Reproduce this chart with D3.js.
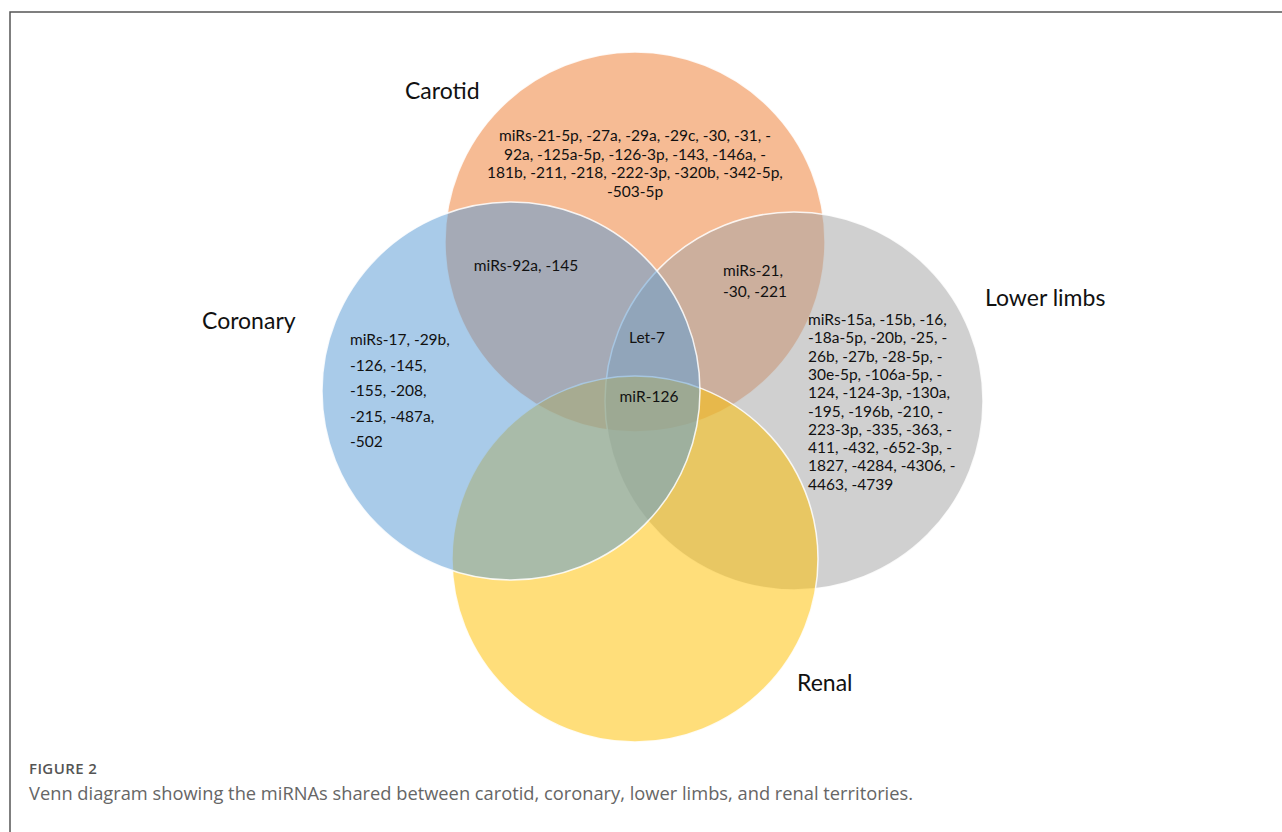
<!DOCTYPE html>
<html>
<head>
<meta charset="utf-8">
<script src="https://cdn.jsdelivr.net/npm/d3@7"></script>
<style>
  body { margin: 0; background: #fff; }
  svg { display: block; }
</style>
</head>
<body>
<div id="venn"></div>
<script>
// sets
var setNames = ["Carotid", "Coronary", "Lower limbs", "Renal"];
var setColors = ["#ED7D31", "#5B9BD5", "#A5A5A5", "#FFC000"];

// miRNAs in each region, one entry per printed line
var carotidOnly = [
    "miRs-21-5p, -27a, -29a, -29c, -30, -31, -",
    "92a, -125a-5p, -126-3p, -143, -146a, -",
    "181b, -211, -218, -222-3p, -320b, -342-5p,",
    "-503-5p"
];
var coronaryOnly = ["miRs-17, -29b,", "-126, -145,", "-155, -208,", "-215, -487a,", "-502"];
var lowerLimbsOnly = [
    "miRs-15a, -15b, -16,",
    "-18a-5p, -20b, -25, -",
    "26b, -27b, -28-5p, -",
    "30e-5p, -106a-5p, -",
    "124, -124-3p, -130a,",
    "-195, -196b, -210, -",
    "223-3p, -335, -363, -",
    "411, -432, -652-3p, -",
    "1827, -4284, -4306, -",
    "4463, -4739"
];
var carotidCoronary = ["miRs-92a, -145"];
var carotidLowerLimbs = ["miRs-21,", "-30, -221"];
var carotidCoronaryLowerLimbs = ["Let-7"];
var allFour = ["miR-126"];

var figureLabel = "FIGURE 2";
var caption = "Venn diagram showing the miRNAs shared between carotid, coronary, lower limbs, and renal territories.";

var svgWidth = 1282, svgHeight = 832;

var svg = d3.select("#venn")
    .append("svg")
    .attr("width", svgWidth)
    .attr("height", svgHeight);

// frame of the figure panel (runs off the right and bottom)
svg.append("rect")
    .attr("x", 10).attr("y", 12)
    .attr("width", svgWidth).attr("height", svgHeight)
    .attr("fill", "none")
    .attr("stroke", "#555")
    .attr("stroke-width", 1.5);

// circle layout (centre and radius of each set)
var layout = [
    { cx: 635, cy: 242, r: 190 },
    { cx: 511, cy: 391, r: 189 },
    { cx: 794, cy: 401, r: 189 },
    { cx: 635, cy: 559, r: 183 }
];

// stacking order seen in the figure: carotid, lower limbs, renal, coronary on top
var drawOrder = [0, 2, 3, 1];

var circles = drawOrder.map(function(i) {
    return { name: setNames[i], color: setColors[i], cx: layout[i].cx, cy: layout[i].cy, r: layout[i].r };
});

svg.append("g")
    .selectAll("circle")
    .data(circles)
    .enter()
    .append("circle")
    .attr("cx", d => d.cx)
    .attr("cy", d => d.cy)
    .attr("r", d => d.r)
    .attr("fill", d => d.color)
    .attr("fill-opacity", 0.52)
    .attr("stroke", "#fff")
    .attr("stroke-opacity", 0.85)
    .attr("stroke-width", 1.5);

// set labels
var setLabelPos = [
    { x: 405, y: 99 },
    { x: 202, y: 329 },
    { x: 985, y: 306 },
    { x: 797, y: 691 }
];

svg.append("g")
    .selectAll("text")
    .data(setNames)
    .enter()
    .append("text")
    .attr("x", (d, i) => setLabelPos[i].x)
    .attr("y", (d, i) => setLabelPos[i].y)
    .attr("font-family", "Lato, 'Open Sans', sans-serif")
    .attr("font-size", 23)
    .attr("fill", "#111")
    .text(d => d);

// region texts
var regions = [
    { lines: carotidOnly, x: 635, y: 141, dy: 18.5, anchor: "middle" },
    { lines: coronaryOnly, x: 350, y: 345, dy: 25.5, anchor: "start" },
    { lines: lowerLimbsOnly, x: 808, y: 325, dy: 18.3, anchor: "start" },
    { lines: carotidCoronary, x: 526, y: 271, dy: 18, anchor: "middle" },
    { lines: carotidLowerLimbs, x: 723, y: 276, dy: 21, anchor: "start" },
    { lines: carotidCoronaryLowerLimbs, x: 647, y: 343, dy: 18, anchor: "middle" },
    { lines: allFour, x: 649, y: 402, dy: 18, anchor: "middle" }
];

var regionText = svg.append("g")
    .selectAll("text")
    .data(regions)
    .enter()
    .append("text")
    .attr("text-anchor", d => d.anchor)
    .attr("font-family", "Lato, 'Open Sans', sans-serif")
    .attr("font-size", 15.5)
    .attr("fill", "#111");

regionText.selectAll("tspan")
    .data(d => d.lines.map((line, i) => ({ line: line, x: d.x, y: d.y + i * d.dy })))
    .enter()
    .append("tspan")
    .attr("x", d => d.x)
    .attr("y", d => d.y)
    .text(d => d.line);

// caption
svg.append("text")
    .attr("x", 29).attr("y", 774)
    .attr("font-family", "'Open Sans', sans-serif")
    .attr("font-size", 15)
    .attr("font-weight", 600)
    .attr("letter-spacing", 0.4)
    .attr("fill", "#555")
    .text(figureLabel);

svg.append("text")
    .attr("x", 29).attr("y", 800)
    .attr("font-family", "'Open Sans', sans-serif")
    .attr("font-size", 18.3)
    .attr("fill", "#666")
    .text(caption);
</script>
</body>
</html>
